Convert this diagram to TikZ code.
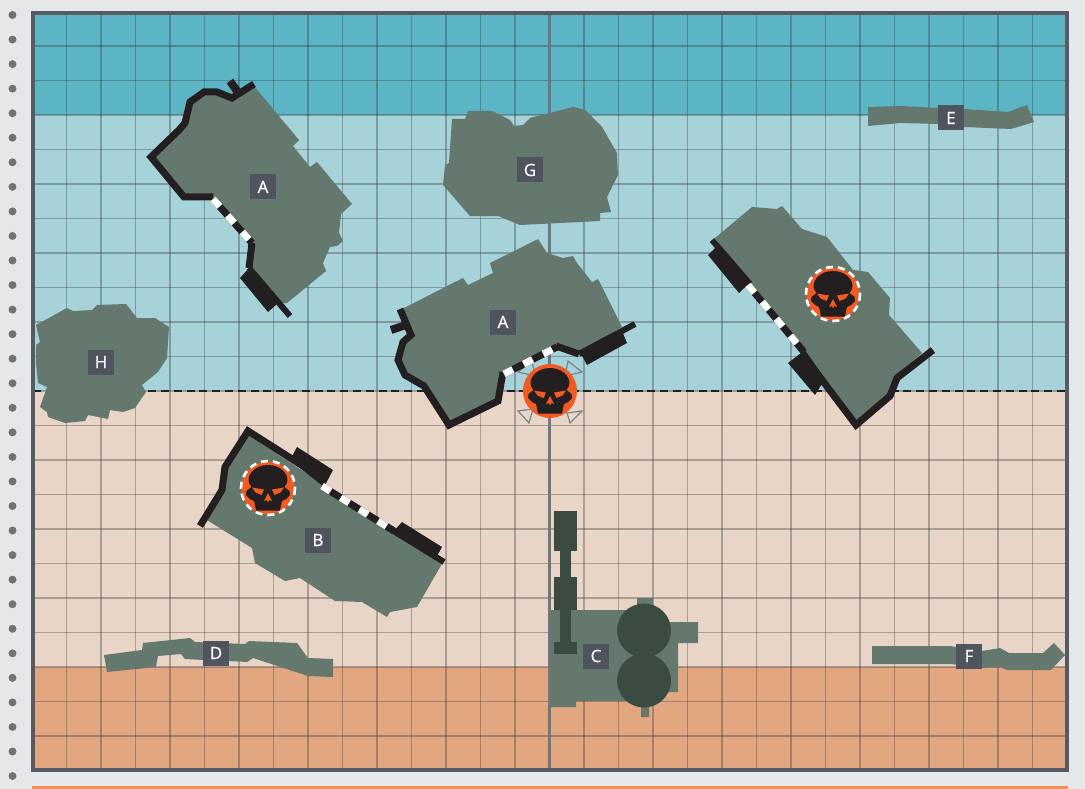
\documentclass[tikz,border=0pt]{standalone}
\usepackage{fontspec}
\setmainfont{Noto Sans}
\newfontfamily\tagfont[FakeBold=0.5]{Noto Sans}
\usetikzlibrary{calc}
\definecolor{pagebg}{HTML}{E6E7E9}
\definecolor{bandA}{HTML}{5BB5C5}
\definecolor{bandB}{HTML}{A6D2DA}
\definecolor{bandC}{HTML}{E8D5C7}
\definecolor{bandD}{HTML}{E2A781}
\definecolor{framec}{HTML}{555A63}
\definecolor{shapec}{HTML}{65786D}
\definecolor{darkc}{HTML}{3A4C42}
\definecolor{wallc}{HTML}{231F20}
\definecolor{hotc}{HTML}{F15A22}
\definecolor{labelc}{HTML}{50545F}
\definecolor{stripc}{HTML}{F0935A}
\definecolor{axisc}{HTML}{6F777D}
\definecolor{markc}{HTML}{7C8388}
\definecolor{gridc}{HTML}{3A3A3A}
\tikzset{
  zone/.style={fill=shapec,draw=none},
  tank/.style={fill=darkc,draw=none},
  wall/.style={draw=wallc,line width=7pt,line join=miter,line cap=butt},
  block/.style={fill=wallc,draw=none},
  doorbase/.style={draw=wallc,line width=7pt},
  doorgap/.style={draw=white,line width=7pt,dash pattern=on 10pt off 12pt},
  gridline/.style={draw=gridc,draw opacity=.36,line width=1.3pt},
  tag/.style={fill=labelc,text=white!96!black,minimum width=26pt,minimum height=25pt,inner sep=0pt,font=\tagfont\fontsize{17}{18}\selectfont},
  cornermark/.style={draw=markc,line width=1.2pt,fill=none,line join=miter},
  skull/.pic={
    \fill[wallc] (0,-23) .. controls (12,-23) and (19.5,-15) .. (19.5,-8)
      .. controls (19.5,-5) and (18,-3) .. (16.5,-1) -- (21.5,3) -- (22,7) -- (18,11) -- (14,13) -- (13,17)
      -- (12,22.5) -- (-12,22.5) -- (-13,17) -- (-14,13) -- (-18,11) -- (-22,7) -- (-21.5,3) -- (-16.5,-1)
      .. controls (-18,-3) and (-19.5,-5) .. (-19.5,-8)
      .. controls (-19.5,-15) and (-12,-23) .. (0,-23) -- cycle;
    \fill[hotc] (-16,-0.5) -- (-4,1.5) -- (-6.5,7) -- (-12.5,4.5) -- cycle;
    \fill[hotc] (16,-0.5) -- (4,1.5) -- (6.5,7) -- (12.5,4.5) -- cycle;
    \fill[hotc] (0,5) -- (4,13) -- (1.5,12) -- (0,14) -- (-1.5,12) -- (-4,13) -- cycle;
  }
}
\newcommand{\doorline}[2]{\draw[doorbase] #1 -- #2; \draw[doorgap] #1 -- #2;}
\begin{document}
\begin{tikzpicture}[x=1pt,y=-1pt]
\useasboundingbox (0,0) rectangle (1085,789);
\fill[pagebg] (0,0) rectangle (1085,789);
% punch holes
\foreach \n in {0,...,31} \fill[framec!85] (12.5,{15+24.55*\n}) circle (4);
% bottom strip
\fill[stripc] (32,786) rectangle (1068,789);
% bands
\fill[bandA] (33,13) rectangle (1067,115);
\fill[bandB] (33,115) rectangle (1067,391);
\fill[bandC] (33,391) rectangle (1067,667);
\fill[bandD] (33,667) rectangle (1067,770);
% grid
\foreach \n in {1,...,29} \draw[gridline] ({32+34.5*\n},13) -- ({32+34.5*\n},770);
\foreach \n in {1,...,21} \draw[gridline] (33,{11.5+34.5*\n}) -- (1067,{11.5+34.5*\n});
% axes
\draw[axisc,line width=2.4pt] (549.5,13) -- (549.5,770);
\draw[wallc,line width=2.4pt,dash pattern=on 8pt off 4.8pt] (33,391) -- (1067,391);
% corner marks
\draw[cornermark] (568,361) -- (582,372) -- (565,376) -- cycle;
\draw[cornermark] (532,361) -- (518,372) -- (535,376) -- cycle;
\draw[cornermark] (567,413) -- (582,411) -- (570,423) -- cycle;
\draw[cornermark] (533,409) -- (518,411) -- (529,423) -- cycle;
% A top-left
\fill[zone] (253,85) -- (299,140) -- (293,146) -- (310,167) -- (317,162) -- (352,204) -- (341,214) -- (339,233) -- (343,241) -- (337,246) -- (330,247) -- (323,263) -- (326,271) -- (287,303) -- (278,303) -- (248,267) -- (252,243) -- (213,198) -- (183,198) -- (152,157) -- (180,128) -- (188,103) -- (203,92) -- (217,92) -- (232,100) -- cycle;
\draw[wall] (254,84) -- (232,98) -- (217,92) -- (204,92) -- (190,102) -- (185,123) -- (179,130) -- (151,157) -- (184,197) -- (213,197);
\draw[wall,line width=8pt] (230,81) -- (237,91);
\doorline{(213,199)}{(252,243)}
\draw[wall] (252,243) -- (249,268);
\draw[wall,line width=6pt] (249,268) -- (290,316);
\fill[block] (240,278) -- (249,268) -- (277,304) -- (268,312) -- cycle;
% G
\fill[zone] (452,119) -- (465,119) -- (468,111) -- (492,111) -- (510,120) -- (514,126) -- (523,125) -- (530,118) -- (573,107) -- (585,110) -- (602,127) -- (617,153) -- (618,175) -- (607,197) -- (611,212) -- (600,213) -- (600,221) -- (520,225) -- (498,216) -- (470,216) -- (443,185) -- (445,165) -- (449,163) -- cycle;
% H
\fill[zone] (36,325) -- (67,308) -- (73,311) -- (92,310) -- (97,305) -- (126,304) -- (137,318) -- (155,318) -- (169,327) -- (167,358) -- (158,372) -- (142,385) -- (146,392) -- (135,408) -- (123,412) -- (110,410) -- (108,419) -- (88,415) -- (85,421) -- (65,423) -- (48,417) -- (47,412) -- (40,407) -- (47,387) -- (38,383) -- (36,363) -- (36,345) -- (40,342) -- cycle;
% A centre
\fill[zone] (402,309) -- (463,278) -- (468,285) -- (493,273) -- (490,263) -- (538,239) -- (547,253) -- (563,258) -- (573,256) -- (577,263) -- (592,282) -- (598,279) -- (622,327) -- (580,352) -- (557,345) -- (505,373) -- (500,402) -- (450,427) -- (425,387) -- (407,377) -- (398,362) -- (403,343) -- (413,335) -- cycle;
\draw[wall] (400,309) -- (411,335) -- (403,342) -- (398,360) -- (405,375) -- (424,386) -- (449,425) -- (498,401) -- (503,372);
\draw[wall,line width=8pt] (391,330) -- (406,325);
\doorline{(504,374)}{(557,347)}
\draw[wall] (556,346) -- (579,354);
\draw[wall,line width=6pt] (579,354) -- (635,324);
\fill[block] (580,352) -- (622,331) -- (627,343) -- (587,365) -- cycle;
% A right
\fill[zone] (715,238) -- (752,207) -- (777,209) -- (782,206) -- (802,229) -- (827,237) -- (853,270) -- (868,272) -- (890,298) -- (889,315) -- (922,353) -- (897,375) -- (890,396) -- (855,425) -- (808,358) -- (748,283) -- cycle;
\draw[wall,line width=6pt] (712,240) -- (750,284);
\fill[block] (708,255) -- (716,247) -- (750,282) -- (739,293) -- cycle;
\doorline{(748,285)}{(804,352)}
\draw[wall] (933,350) -- (897,378) -- (890,396) -- (856,425) -- (810,364);
\fill[block] (788,363) -- (805,350) -- (825,379) -- (815,395) -- cycle;
% B
\fill[zone] (248,435) -- (443,562) -- (417,607) -- (390,612) -- (387,617) -- (362,602) -- (335,601) -- (300,578) -- (285,581) -- (255,563) -- (252,548) -- (207,520) -- (222,490) -- (225,467) -- cycle;
\draw[wall] (200,526) -- (222,490) -- (225,467) -- (248,431) -- (325,480);
\fill[block] (297,447) -- (333,470) -- (324,487) -- (290,460) -- cycle;
\doorline{(322,486)}{(394,531)}
\draw[wall,line width=6pt] (392,530) -- (444,562);
\fill[block] (402,522) -- (442,547) -- (437,556) -- (393,532) -- cycle;
% C
\fill[zone] (550.5,610) -- (637,610) -- (637,598) -- (653,598) -- (653,622) -- (698,622) -- (698,643) -- (678,643) -- (678,692) -- (649,692) -- (649,717) -- (641,717) -- (641,701) -- (576,701) -- (576,707) -- (550.5,707) -- cycle;
\fill[tank] (644,630.5) circle (27);
\fill[tank] (644,680.5) circle (27);
\fill[tank] (553.7,511) rectangle (576.7,551);
\fill[tank] (560,551) rectangle (571,577);
\fill[tank] (553.7,577) rectangle (576.7,610);
\fill[tank] (560,610) rectangle (571,642);
\fill[tank] (553.7,642) rectangle (576.7,654);
% D
\fill[zone] (104,655) -- (142,650) -- (143,643) -- (190,638) -- (195,642) -- (245,644) -- (249,641) -- (297,643) -- (308,658) -- (333,659) -- (333,677) -- (308,676) -- (253,658) -- (247,662) -- (228,661) -- (204,660) -- (185,659) -- (181,654) -- (158,656) -- (156,667) -- (107,672) -- cycle;
% E
\fill[zone] (868,107) -- (900,106) -- (939,108) -- (964,109) -- (1008,112) -- (1027,105) -- (1034,122) -- (1011,129) -- (964,127) -- (939,124) -- (900,123) -- (868,126) -- cycle;
% F
\fill[zone] (872,646) -- (950,646) -- (982,651) -- (1000,648) -- (1009,653) -- (1043,653) -- (1054,643) -- (1065,655) -- (1051,670) -- (1007,670) -- (1000,667) -- (982,668) -- (960,665) -- (950,664) -- (872,664) -- cycle;
% frame
\draw[framec,line width=4pt] (33,13) rectangle (1067,770);
% skulls
\fill[hotc] (550,391) circle (27);
\pic at (550,391) {skull};
\fill[hotc] (833,294) circle (26.5);
\draw[white,line width=2.6pt,dash pattern=on 7pt off 5pt] (833,294) circle (27);
\pic at (833,294) {skull};
\fill[hotc] (268,488) circle (26.5);
\draw[white,line width=2.6pt,dash pattern=on 7pt off 5pt] (268,488) circle (27);
\pic at (268,488) {skull};
% labels
\node[tag] (la) at (263,187) {A};
\node[tag] (lg) at (530,170) {G};
\node[tag] (le) at (951,118) {E};
\node[tag] (lb) at (503,322) {A};
\node[tag] (lh) at (101,362) {H};
\node[tag] (lc) at (318,540) {B};
\node[tag] (ld) at (216,653) {D};
\node[tag] (lk) at (596,656) {C};
\node[tag] (lf) at (969,656) {F};
\end{tikzpicture}
\end{document}
